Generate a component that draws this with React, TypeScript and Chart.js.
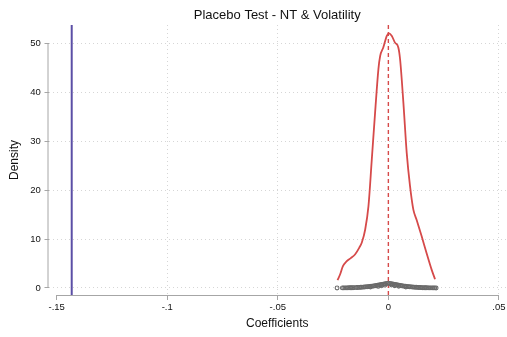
import React, { useEffect, useRef } from "react";
import { Chart, registerables } from "chart.js";

Chart.register(...registerables);

// ---- data ----
const densityX = [-0.0230, -0.0218, -0.0206, -0.0188, -0.0170, -0.0150, -0.0132, -0.0120, -0.0105, -0.0090, -0.0075, -0.0060, -0.0045, -0.0037, -0.0023, -0.0007, 0.0003, 0.0015, 0.0030, 0.0045, 0.0053, 0.0068, 0.0083, 0.0098, 0.0113, 0.0128, 0.0151, 0.0173, 0.0196, 0.0211];
const densityY = [1.6, 2.8, 4.4, 5.5, 6.1, 6.9, 8.2, 9.3, 11.9, 16.7, 26.2, 35.8, 44.7, 47.4, 49.1, 51.5, 52.0, 51.5, 50.1, 49.1, 46.7, 37.8, 27.6, 20.8, 16.0, 13.9, 10.5, 7.1, 3.7, 1.8];

const coefX = [-0.0232, -0.0208, -0.0202, -0.0196, -0.0190, -0.0184, -0.0178, -0.0172, -0.0166, -0.0160, -0.0154, -0.0144, -0.0138, -0.0132, -0.0126, -0.0120, -0.0114, -0.0108, -0.0102, -0.0096, -0.0090, -0.0084, -0.0078, -0.0072, -0.0066, -0.0060, -0.0054, -0.0048, -0.0042, -0.0036, -0.0030, -0.0024, -0.0018, -0.0012, -0.0006, 0.0000, 0.0006, 0.0012, 0.0018, 0.0024, 0.0030, 0.0036, 0.0042, 0.0048, 0.0054, 0.0060, 0.0066, 0.0072, 0.0078, 0.0084, 0.0090, 0.0096, 0.0102, 0.0108, 0.0114, 0.0120, 0.0126, 0.0132, 0.0138, 0.0144, 0.0150, 0.0156, 0.0162, 0.0168, 0.0174, 0.0180, 0.0186, 0.0192, 0.0198, 0.0204, 0.0210, 0.0216, -0.0081, -0.0046, -0.0031, -0.0016, 0.0014, 0.0029, 0.0047, 0.0079];
const coefP = [0.01, 0.02, 0.02, 0.02, 0.03, 0.03, 0.04, 0.04, 0.05, 0.06, 0.07, 0.09, 0.10, 0.12, 0.14, 0.16, 0.18, 0.20, 0.23, 0.25, 0.28, 0.31, 0.35, 0.38, 0.42, 0.46, 0.50, 0.55, 0.60, 0.65, 0.70, 0.76, 0.82, 0.88, 0.94, 0.99, 0.94, 0.88, 0.82, 0.76, 0.70, 0.65, 0.60, 0.55, 0.50, 0.46, 0.42, 0.38, 0.35, 0.31, 0.28, 0.25, 0.23, 0.20, 0.18, 0.16, 0.14, 0.12, 0.10, 0.09, 0.07, 0.06, 0.05, 0.04, 0.04, 0.03, 0.03, 0.03, 0.02, 0.02, 0.02, 0.01, 0.18, 0.33, 0.44, 0.58, 0.61, 0.47, 0.36, 0.19];

const actualCoef = -0.1432;
const placeboMean = 0;

const xTickValues = [-0.15, -0.1, -0.05, 0, 0.05];
const xTickLabels = ["-.15", "-.1", "-.05", "0", ".05"];
const yTickValues = [0, 10, 20, 30, 40, 50];

const X_MIN = -0.1537;
const X_MAX = 0.0532;
const Y_MIN = -1.43;
const Y_MAX = 53.7;

const RED = "#d64a4a";
const BLUE = "#5b4fa6";
const GREY = "#6a6a6a";
const AXIS = "#a6a6a6";
const GRID = "#d6d6d6";
const FONT = "'Liberation Sans', Arial, Helvetica, sans-serif";

const axisLinePlugin = {
  id: "stataAxes",
  afterDraw(chart: any) {
    const { ctx, chartArea, scales } = chart;
    const x = scales.x;
    const y = scales.y;
    ctx.save();
    ctx.strokeStyle = AXIS;
    ctx.lineWidth = 1;
    ctx.beginPath();
    ctx.moveTo(chartArea.left - 0.5, y.getPixelForValue(yTickValues[0]));
    ctx.lineTo(chartArea.left - 0.5, y.getPixelForValue(yTickValues[yTickValues.length - 1]));
    ctx.moveTo(x.getPixelForValue(xTickValues[0]), chartArea.bottom + 0.5);
    ctx.lineTo(x.getPixelForValue(xTickValues[xTickValues.length - 1]), chartArea.bottom + 0.5);
    ctx.stroke();
    ctx.restore();
  },
};

export default function App() {
  const ref = useRef<HTMLCanvasElement>(null);

  useEffect(() => {
    if (!ref.current) return;
    const density = densityX.map((v, i) => ({ x: v, y: densityY[i] }));
    const coefs = coefX.map((v, i) => ({ x: v, y: coefP[i] }));
    const chart = new Chart(ref.current, {
      type: "scatter",
      data: {
        datasets: [
          {
            data: coefs,
            showLine: false,
            pointStyle: "circle",
            pointRadius: 1.9,
            pointHoverRadius: 1.9,
            pointBorderWidth: 1.1,
            pointBorderColor: GREY,
            pointBackgroundColor: "rgba(255,255,255,0)",
          },
          {
            data: density,
            showLine: true,
            borderColor: RED,
            borderWidth: 1.8,
            pointRadius: 0,
            pointHoverRadius: 0,
            cubicInterpolationMode: "monotone",
          },
          {
            data: [
              { x: placeboMean, y: Y_MIN },
              { x: placeboMean, y: Y_MAX },
            ],
            showLine: true,
            borderColor: RED,
            borderWidth: 1.4,
            borderDash: [4, 3],
            pointRadius: 0,
            pointHoverRadius: 0,
          },
          {
            data: [
              { x: actualCoef, y: Y_MIN },
              { x: actualCoef, y: Y_MAX },
            ],
            showLine: true,
            borderColor: BLUE,
            borderWidth: 2,
            pointRadius: 0,
            pointHoverRadius: 0,
          },
        ],
      },
      options: {
        animation: false,
        responsive: false,
        maintainAspectRatio: false,
        events: [],
        layout: { autoPadding: false, padding: { left: 0, right: 1, top: 0, bottom: 0 } },
        plugins: {
          legend: { display: false },
          tooltip: { enabled: false },
          title: {
            display: true,
            fullSize: false,
            text: "Placebo Test - NT & Volatility",
            color: "#111",
            font: { family: FONT, size: 13, weight: "normal", lineHeight: 1.2 },
            padding: { top: 8, bottom: 1.4 },
          },
        },
        scales: {
          x: {
            type: "linear",
            min: X_MIN,
            max: X_MAX,
            afterBuildTicks: (s: any) => {
              s.ticks = xTickValues.map((v) => ({ value: v }));
            },
            afterFit: (s: any) => {
              s.height = 42;
              s.paddingLeft = 0;
              s.paddingRight = 0;
            },
            ticks: {
              autoSkip: false,
              maxRotation: 0,
              padding: 2,
              color: "#111",
              font: { family: FONT, size: 9.5 },
              callback: (v: any) => {
                const i = xTickValues.findIndex((t) => Math.abs(t - v) < 1e-9);
                return i >= 0 ? xTickLabels[i] : "";
              },
            },
            grid: {
              drawTicks: true,
              tickLength: 5,
              tickColor: AXIS,
              tickBorderDash: [],
              color: (c: any) =>
                c.tick && (Math.abs(c.tick.value - xTickValues[0]) < 1e-9 || Math.abs(c.tick.value) < 1e-9)
                  ? "rgba(0,0,0,0)"
                  : GRID,
              lineWidth: 1,
            },
            border: { display: false, dash: [1, 3] },
            title: {
              display: true,
              text: "Coefficients",
              color: "#111",
              font: { family: FONT, size: 12, lineHeight: 1.2 },
              padding: { top: 0, bottom: 6.5 },
            },
          },
          y: {
            type: "linear",
            min: Y_MIN,
            max: Y_MAX,
            afterBuildTicks: (s: any) => {
              s.ticks = yTickValues.map((v) => ({ value: v }));
            },
            afterFit: (s: any) => {
              s.width = 48.5;
              s.paddingTop = 0;
              s.paddingBottom = 0;
            },
            ticks: {
              padding: 3.8,
              color: "#111",
              font: { family: FONT, size: 9.5 },
              callback: (v: any) => String(v),
            },
            grid: {
              drawTicks: true,
              tickLength: 4,
              tickColor: AXIS,
              tickBorderDash: [],
              color: GRID,
              lineWidth: 1,
            },
            border: { display: false, dash: [1, 3] },
            title: {
              display: true,
              text: "Density",
              color: "#111",
              font: { family: FONT, size: 12, lineHeight: 1.2 },
              padding: { top: 7.5, bottom: 0 },
            },
          },
        },
      },
      plugins: [axisLinePlugin],
    } as any);
    return () => chart.destroy();
  }, []);

  return (
    <div style={{ position: "fixed", left: 0, top: 0, width: 507, height: 337, background: "#fff" }}>
      <canvas ref={ref} width={507} height={337} style={{ width: 507, height: 337 }} />
    </div>
  );
}
